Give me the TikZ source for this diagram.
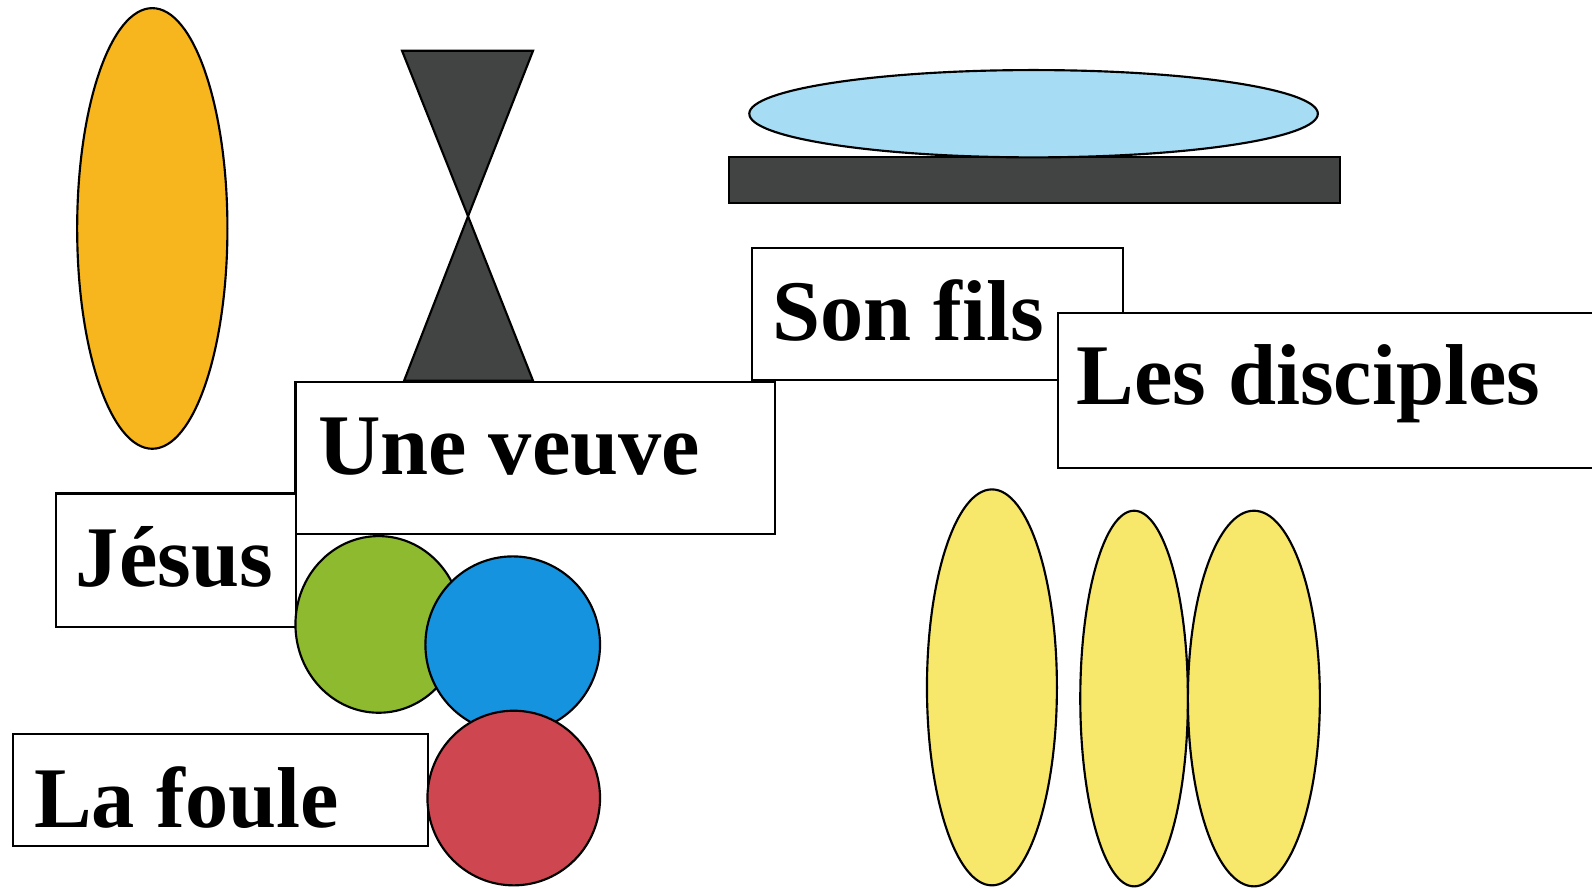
\documentclass[tikz,border=0pt]{standalone}
\usepackage{fontspec}
\setmainfont{Liberation Serif}
\usepackage{tikz}
\usetikzlibrary{positioning}
\definecolor{cOrange}{RGB}{248,182,30}
\definecolor{cSky}{RGB}{166,221,245}
\definecolor{cDark}{RGB}{66,68,68}
\definecolor{cGreen}{RGB}{141,186,46}
\definecolor{cBlue}{RGB}{22,147,222}
\definecolor{cRed}{RGB}{206,70,80}
\definecolor{cYellow}{RGB}{247,231,106}
\tikzset{
  blob/.style={draw=black, line width=0.6pt},
  card/.style={draw=black, fill=white, line width=0.6pt, inner sep=0pt, anchor=north west},
  word/.style={anchor=base west, inner sep=0pt, font=\fontsize{24.2}{29}\selectfont\bfseries},
}
\begin{document}
\begin{tikzpicture}[x=0.01cm, y=-0.01cm]
    \clip (0,0) rectangle (1568,875);
    \fill[white] (0,0) rectangle (1568,875);
    % the figures
    \draw[blob, fill=cOrange] (150,225) ellipse [x radius=74, y radius=217];
    \draw[blob, fill=cDark] (396,50) -- (525,50) -- (461,213) -- cycle;
    \draw[blob, fill=cDark] (461,213) -- (525,375) -- (398,375) -- cycle;
    \draw[blob, fill=cDark] (718,155) rectangle (1320,200);
    \draw[blob, fill=cSky] (1018,112) ellipse [x radius=280, y radius=43];
    % the cards
    \node[card, minimum width=3.65cm, minimum height=1.30cm] (fils-box) at (740,243) {};
    \node[word] (fils) at (760,335) {Son fils};
    \node[card, minimum width=5.45cm, minimum height=1.53cm] (disc-box) at (1041,307) {};
    \node[word] (disc) at (1060,398) {Les disciples};
    \node[card, minimum width=4.72cm, minimum height=1.50cm] (veuve-box) at (290,375) {};
    \node[word] (veuve) at (313,467) {Une veuve};
    \node[card, minimum width=2.36cm, minimum height=1.31cm] (jesus-box) at (54,485) {};
    \node[word] (jesus) at (74,578) {Jésus};
    \node[card, minimum width=4.08cm, minimum height=1.10cm] (foule-box) at (12,722) {};
    \node[word] (foule) at (33,815) {La foule};
    % the crowd
    \draw[blob, fill=cGreen] (373,615) ellipse [x radius=82, y radius=87];
    \draw[blob, fill=cBlue] (505,635) ellipse [x radius=86, y radius=87];
    \draw[blob, fill=cRed] (506,786) ellipse [x radius=85, y radius=86];
    % the disciples
    \draw[blob, fill=cYellow] (977,677) ellipse [x radius=64, y radius=195];
    \draw[blob, fill=cYellow] (1117,688) ellipse [x radius=53, y radius=185];
    \draw[blob, fill=cYellow] (1235,688) ellipse [x radius=65, y radius=185];
\end{tikzpicture}
\end{document}
